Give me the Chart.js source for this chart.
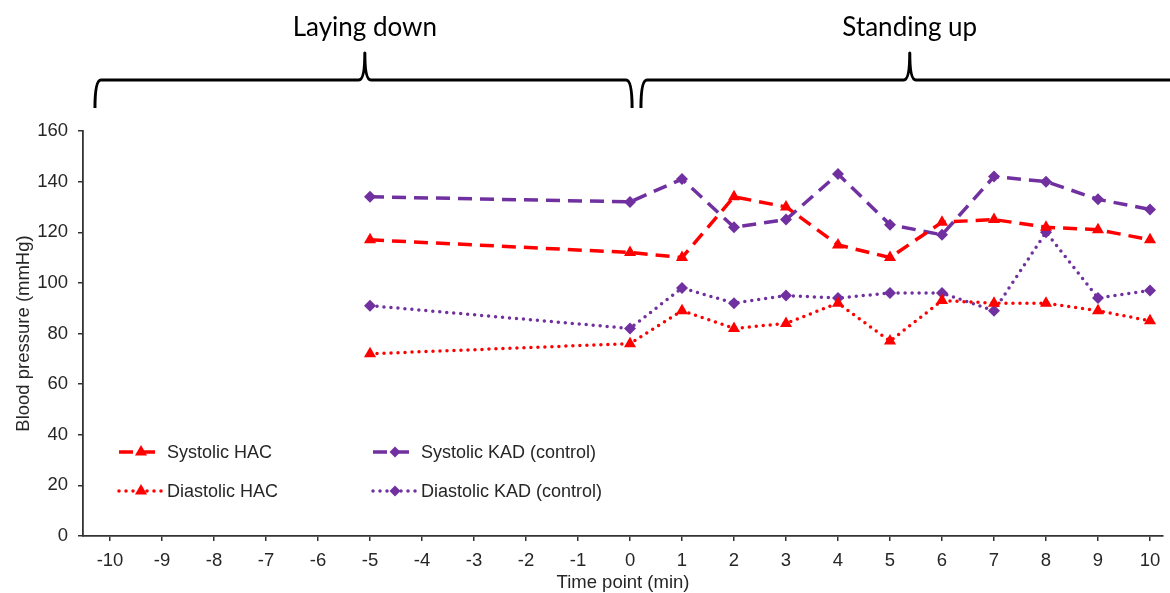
<!DOCTYPE html>
<html>
<head>
<meta charset="utf-8">
<script src="https://cdn.jsdelivr.net/npm/chart.js@4/dist/chart.umd.min.js"></script>
<style>
  html, body { margin: 0; padding: 0; background: #fff; }
  #wrap { width: 1170px; height: 593px; position: relative; }
</style>
</head>
<body>
<div id="wrap"><canvas id="c"></canvas></div>
<script>
// time points (min) and readings (mmHg)
const TIMES = [-5, 0, 1, 2, 3, 4, 5, 6, 7, 8, 9, 10];
const SYS_HAC = [117, 112, 110, 134, 130, 115, 110, 124, 125, 122, 121, 117];
const DIA_HAC = [72, 76, 89, 82, 84, 92, 77, 93, 92, 92, 89, 85];
const SYS_KAD = [134, 132, 141, 122, 125, 143, 123, 119, 142, 140, 133, 129];
const DIA_KAD = [91, 82, 98, 92, 95, 94, 96, 96, 89, 120, 94, 97];
const X_TICKS = [-10, -9, -8, -7, -6, -5, -4, -3, -2, -1, 0, 1, 2, 3, 4, 5, 6, 7, 8, 9, 10];
const PHASES = [
  { label: "Laying down", from: -10.29, peak: -5.1, to: 0.04 },
  { label: "Standing up", from: 0.21, peak: 5.38, to: 11 },
];

const RED = "#ff0000", PURPLE = "#7030a0";
const pts = (vals) => TIMES.map((t, i) => ({ x: t, y: vals[i] }));
const DASH = [14, 8], DOT = [0, 7];
const ARIAL = "'Liberation Sans', Arial, sans-serif";

function series(label, vals, color, dash, style) {
  return {
    label, data: pts(vals), borderColor: color, backgroundColor: color,
    borderWidth: 3.5, borderDash: dash, borderCapStyle: dash === DOT ? "round" : "butt",
    pointStyle: style, pointRadius: style === "triangle" ? 7 : 6, pointBorderWidth: 0,
    tension: 0, fill: false,
  };
}

// curly brackets + phase labels above the plot
const phasePlugin = {
  id: "phases",
  afterDraw(chart) {
    const { ctx } = chart, x = chart.scales.x;
    const yEnd = 108, yBar = 80, yTip = 53, r = 6;
    ctx.save();
    ctx.strokeStyle = "#000"; ctx.lineWidth = 3; ctx.lineJoin = "round";
    PHASES.forEach((p) => {
      const a = x.getPixelForValue(p.from), m = x.getPixelForValue(p.peak), b = x.getPixelForValue(p.to);
      ctx.beginPath();
      ctx.moveTo(a, yEnd);
      ctx.quadraticCurveTo(a, yBar, a + r, yBar);
      ctx.lineTo(m - r, yBar);
      ctx.quadraticCurveTo(m, yBar, m, yTip);
      ctx.quadraticCurveTo(m, yBar, m + r, yBar);
      ctx.lineTo(b - r, yBar);
      ctx.quadraticCurveTo(b, yBar, b, yEnd);
      ctx.stroke();
      ctx.fillStyle = "#000";
      ctx.font = "26px Lato, 'Open Sans', sans-serif";
      ctx.textAlign = "center"; ctx.textBaseline = "middle";
      ctx.fillText(p.label, m, 28);
    });
    ctx.restore();
  },
};

// legend inside the plot, 2 columns (HAC left, KAD right)
const legendPlugin = {
  id: "inLegend",
  afterDraw(chart) {
    const { ctx } = chart;
    const cols = [119, 373], rows = [452, 491], len = 44;
    ctx.save();
    chart.data.datasets.forEach((ds, k) => {
      const x0 = cols[Math.floor(k / 2)], y = rows[k % 2];
      ctx.strokeStyle = ds.borderColor; ctx.lineWidth = 3.5;
      ctx.setLineDash(ds.borderDash); ctx.lineCap = ds.borderCapStyle;
      ctx.beginPath(); ctx.moveTo(x0, y); ctx.lineTo(x0 + len, y); ctx.stroke();
      ctx.setLineDash([]);
      ctx.fillStyle = ds.borderColor; ctx.strokeStyle = ds.borderColor;
      Chart.helpers.drawPoint(ctx, { pointStyle: ds.pointStyle, radius: ds.pointStyle === "triangle" ? 7 : 5.5, rotation: 0, borderWidth: 0 }, x0 + len / 2, y);
      ctx.fillStyle = "#262626";
      ctx.font = "18px " + ARIAL;
      ctx.textAlign = "left"; ctx.textBaseline = "middle";
      ctx.fillText(ds.label, x0 + len + 4, y + 1);
    });
    ctx.restore();
  },
};

const tickFont = { family: ARIAL, size: 18.5 };
const titleFont = { family: ARIAL, size: 18.5 };

new Chart(document.getElementById("c"), {
  type: "line",
  data: {
    datasets: [
      series("Systolic HAC", SYS_HAC, RED, DASH, "triangle"),
      series("Diastolic HAC", DIA_HAC, RED, DOT, "triangle"),
      series("Systolic KAD (control)", SYS_KAD, PURPLE, DASH, "rectRot"),
      series("Diastolic KAD (control)", DIA_KAD, PURPLE, DOT, "rectRot"),
    ],
  },
  options: {
    responsive: true, maintainAspectRatio: false, animation: false,
    layout: { padding: { top: 131, right: 2, left: 0, bottom: 0 } },
    plugins: { legend: { display: false }, tooltip: { enabled: false } },
    scales: {
      x: {
        type: "linear", min: -10.52, max: 10.25,
        afterBuildTicks: (s) => { s.ticks = X_TICKS.map((v) => ({ value: v })); },
        afterFit: (s) => { s.height = 57; },
        ticks: { color: "#262626", font: tickFont, padding: 9, maxRotation: 0, autoSkip: false },
        grid: { drawOnChartArea: false, drawTicks: true, tickLength: 5, color: "#333", lineWidth: 1.5 },
        border: { color: "#333", width: 1.8 },
        title: { display: true, text: "Time point (min)", color: "#262626", font: titleFont, padding: { top: 0, bottom: -1 } },
      },
      y: {
        min: 0, max: 160,
        afterFit: (s) => { s.width = 83; },
        ticks: { stepSize: 20, color: "#262626", font: tickFont, padding: 10 },
        grid: { drawOnChartArea: false, drawTicks: true, tickLength: 5, color: "#333", lineWidth: 1.5 },
        border: { color: "#333", width: 1.8 },
        title: { display: true, text: "Blood pressure (mmHg)", color: "#262626", font: titleFont, padding: { top: 13, bottom: 0 } },
      },
    },
  },
  plugins: [phasePlugin, legendPlugin],
});
</script>
</body>
</html>
